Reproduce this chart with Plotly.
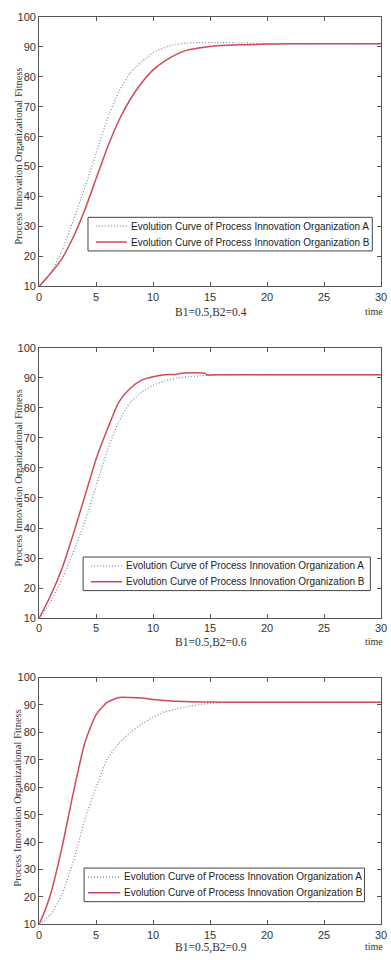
import plotly.graph_objects as go

# ---------------- data ----------------
# Panel 1: B1=0.5, B2=0.4
t_a1 = [0, 1, 2, 3, 4, 5, 6, 7, 8, 9, 10, 11, 12, 13, 14, 16, 18, 20, 22, 25, 30]
y_a1 = [10, 14.5, 22, 32, 43, 54.5, 66, 75, 81.3, 85, 88, 89.8, 90.8, 91.3, 91.4, 91.4, 91.3, 91.1, 91, 91, 91]
t_b1 = [0, 1, 2, 3, 4, 5, 6, 7, 8, 9, 10, 11, 12, 13, 14, 15, 16, 17, 18, 20, 22, 25, 30]
y_b1 = [10, 14.3, 19.3, 26.5, 35.5, 46, 56.5, 65.5, 72.5, 78, 82.3, 85.2, 87.4, 88.9, 89.6, 90.1, 90.4, 90.6, 90.7, 90.9, 91, 91, 91]

# Panel 2: B1=0.5, B2=0.6
t_a2 = [0, 1, 2, 3, 4, 5, 6, 7, 8, 9, 10, 11, 12, 13, 14, 15, 17, 20, 30]
y_a2 = [10, 15.5, 23, 32, 42, 54, 66, 75.5, 81.8, 85.2, 87.5, 88.9, 89.8, 90.3, 90.6, 90.8, 91, 91, 91]
t_b2 = [0, 1, 2, 3, 4, 5, 6, 7, 8, 9, 10, 11, 12, 12.5, 14.5, 14.7, 16, 20, 30]
y_b2 = [10, 17.5, 26.5, 38, 50.5, 63, 73, 82, 86.5, 89.2, 90.3, 91, 91.1, 91.5, 91.5, 91, 91, 91, 91]

# Panel 3: B1=0.5, B2=0.9
t_a3 = [0, 1, 2, 3, 4, 5, 6, 7, 8, 9, 10, 11, 12, 13, 14, 15, 17, 20, 30]
y_a3 = [10, 13.5, 21, 33, 48, 60, 70.5, 76, 80, 83, 85.5, 87.4, 88.5, 89.4, 90.1, 90.6, 91, 91, 91]
t_b3 = [0, 0.5, 1, 2, 3, 4, 5, 6, 7, 8, 9, 10, 11, 12, 14, 16, 30]
y_b3 = [10, 15, 21, 38, 58, 76, 86.5, 91, 92.7, 92.7, 92.5, 92, 91.6, 91.3, 91.1, 91, 91]

panel_labels = ["B1=0.5,B2=0.4", "B1=0.5,B2=0.6", "B1=0.5,B2=0.9"]
name_a = "Evolution Curve of Process Innovation Organization A"
name_b = "Evolution Curve of Process Innovation Organization B"
y_title = "Process Innovation Organizational Fitness"
x_ticks = [0, 5, 10, 15, 20, 25, 30]
y_ticks = [10, 20, 30, 40, 50, 60, 70, 80, 90, 100]

# ---------------- layout geometry (pixels) ----------------
W, H = 391, 960
px_left, px_right = 37, 387
panels_px = [(11, 284), (346, 620), (680, 930)]           # top, bottom of plot areas
legend_box = [(87, 214, 378, 248), (82, 558, 376, 592), (83, 873, 370, 907)]
legend_sample = [(95, 127), (90, 122), (87, 120)]
ylabel_center = [152, 478, 802]
xlabel_y = [310, 645, 953]

COL_A = "#7f8db0"
COL_B = "#d04a5a"
DASH_A = "1px,2px"
AX = "#555555"
SANS = "Liberation Sans, Arial, sans-serif"
SERIF = "Liberation Serif, Times New Roman, serif"


def px_x(x):
    return x / W


def px_y(y):
    return 1 - y / H


fig = go.Figure()
series = [(t_a1, y_a1, t_b1, y_b1), (t_a2, y_a2, t_b2, y_b2), (t_a3, y_a3, t_b3, y_b3)]

layout = dict(
    width=W, height=H,
    margin=dict(l=0, r=0, t=0, b=0),
    paper_bgcolor="white", plot_bgcolor="white",
    showlegend=False,
    annotations=[], shapes=[],
)

for i, (ta, ya, tb, yb) in enumerate(series):
    k = "" if i == 0 else str(i + 1)
    fig.add_trace(go.Scatter(x=ta, y=ya, mode="lines", name=name_a,
                             line=dict(color=COL_A, width=1.3, dash=DASH_A,
                                       shape="spline", smoothing=0.6),
                             xaxis="x" + k, yaxis="y" + k))
    fig.add_trace(go.Scatter(x=tb, y=yb, mode="lines", name=name_b,
                             line=dict(color=COL_B, width=1.5,
                                       shape="spline", smoothing=0.6),
                             xaxis="x" + k, yaxis="y" + k))
    top, bot = panels_px[i]
    axcommon = dict(showline=True, linecolor=AX, linewidth=1, mirror="ticks",
                    ticks="inside", ticklen=4, tickcolor=AX, tickwidth=1,
                    showgrid=False, zeroline=False, ticklabeloverflow="allow",
                    tickfont=dict(family=SANS, size=11, color="#333333"))
    layout["xaxis" + k] = dict(domain=[px_x(px_left), px_x(px_right)], range=[0, 30],
                               tickvals=x_ticks, anchor="y" + k, **axcommon)
    layout["yaxis" + k] = dict(domain=[px_y(bot), px_y(top)], range=[10, 100],
                               tickvals=y_ticks, anchor="x" + k, **axcommon)

    # legend (box, line samples, labels)
    bx0, by0, bx1, by1 = legend_box[i]
    sx0, sx1 = legend_sample[i]
    row_a = by0 + 9
    row_b = by1 - 9
    layout["shapes"] += [
        dict(type="rect", xref="paper", yref="paper",
             x0=px_x(bx0), x1=px_x(bx1), y0=px_y(by1), y1=px_y(by0),
             line=dict(color="#444444", width=1), fillcolor="white", layer="above"),
        dict(type="line", xref="paper", yref="paper",
             x0=px_x(sx0), x1=px_x(sx1), y0=px_y(row_a), y1=px_y(row_a),
             line=dict(color=COL_A, width=1.3, dash=DASH_A), layer="above"),
        dict(type="line", xref="paper", yref="paper",
             x0=px_x(sx0), x1=px_x(sx1), y0=px_y(row_b), y1=px_y(row_b),
             line=dict(color=COL_B, width=1.5), layer="above"),
    ]
    for name, row in ((name_a, row_a), (name_b, row_b)):
        layout["annotations"].append(
            dict(text=name, x=px_x(sx1 + 2), y=px_y(row), xref="paper", yref="paper",
                 showarrow=False, xanchor="left", yanchor="middle",
                 font=dict(family=SANS, size=10, color="#222222")))

    layout["annotations"] += [
        dict(text=y_title, x=px_x(15), y=px_y(ylabel_center[i]), xref="paper", yref="paper",
             textangle=-90, showarrow=False, xanchor="center", yanchor="middle",
             font=dict(family=SERIF, size=10.5, color="#333333")),
        dict(text=panel_labels[i], x=px_x(213), y=px_y(xlabel_y[i]), xref="paper", yref="paper",
             showarrow=False, xanchor="center", yanchor="middle",
             font=dict(family=SERIF, size=11.5, color="#333333")),
        dict(text="time", x=px_x(380), y=px_y(xlabel_y[i] - 1), xref="paper", yref="paper",
             showarrow=False, xanchor="center", yanchor="middle",
             font=dict(family=SERIF, size=10, color="#333333")),
    ]

fig.update_layout(**layout)
fig.write_html("out.html")
